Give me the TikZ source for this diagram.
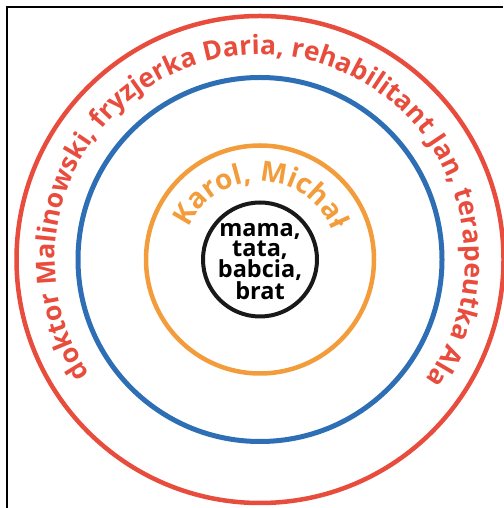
\documentclass[tikz,border=0pt]{standalone}
\usepackage{fontspec}
\setmainfont{Open Sans}
\usetikzlibrary{decorations.text}
\definecolor{ringred}{rgb}{0.91, 0.30, 0.24}
\definecolor{ringblue}{rgb}{0.18, 0.43, 0.71}
\definecolor{ringorange}{rgb}{0.95, 0.61, 0.23}

\begin{document}
\begin{tikzpicture}[x=1pt,y=1pt,
    ring/.style={line width=#1}]
      \useasboundingbox (0,0) rectangle (503,508);
      \coordinate (O) at (260,248.5);

      % frame
      \draw [line width=2.4pt] (7,0) -- (7,501) -- (503,501);

      % rings
      \draw [ring=4.5pt, ringred] (O) circle (243.5);
      \draw [ring=5pt, ringblue] (O) circle (182);
      \draw [ring=4.5pt, ringorange] (O) circle (114);
      \draw [ring=4pt, black!90] (O) circle (57);

      % texts along the rings
      \path [decorate, decoration={text along path, text align=center, text color=ringred,
        text={|\bfseries\fontsize{26.5}{26.5}\selectfont|doktor Malinowski, fryzjerka Daria, rehabilitant Jan, terapeutka Ala}}]
        (O) ++(240:205) arc (240:-62:205);
      \path [decorate, decoration={text along path, text align=center, text color=ringorange,
        text={|\bfseries\fontsize{28}{28}\selectfont|Karol, Michał}}]
        (O) ++(170:78) arc (170:8:78);

      \node (family) [align=center, font=\bfseries\fontsize{23.5}{20}\selectfont] at ([yshift=-2]O)
        {mama,\\tata,\\babcia,\\brat};
    \end{tikzpicture}
\end{document}
